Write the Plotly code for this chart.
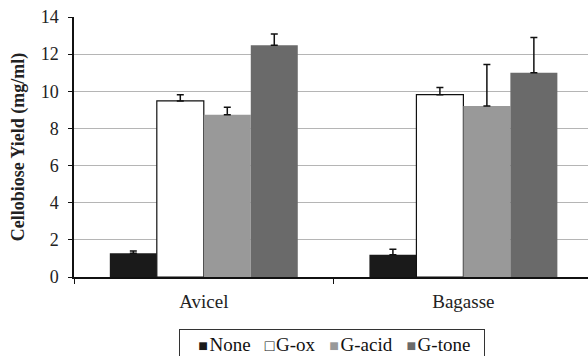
import plotly.graph_objects as go

categories = ["Avicel", "Bagasse"]
series_names = ["None", "G-ox", "G-acid", "G-tone"]
values = {
    "None": [1.28, 1.2],
    "G-ox": [9.48, 9.82],
    "G-acid": [8.74, 9.21],
    "G-tone": [12.48, 11.0],
}
errors = {
    "None": [0.12, 0.3],
    "G-ox": [0.34, 0.39],
    "G-acid": [0.4, 2.23],
    "G-tone": [0.6, 1.89],
}
colors = {"None": "#1a1a1a", "G-ox": "#ffffff", "G-acid": "#999999", "G-tone": "#6a6a6a"}
legend_symbols = {"None": "■", "G-ox": "□", "G-acid": "■", "G-tone": "■"}
y_ticks = [0, 2, 4, 6, 8, 10, 12, 14]

font_family = "Liberation Serif, Times New Roman, Times, serif"

fig = go.Figure()
for name in series_names:
    fig.add_trace(go.Bar(
        name=name,
        x=categories,
        y=values[name],
        showlegend=False,
        marker=dict(color=colors[name],
                    line=dict(color="#111111", width=1.2 if name == "G-ox" else 0)),
        error_y=dict(type="data", symmetric=False, array=errors[name],
                     arrayminus=[0] * len(categories),
                     color="#111111", thickness=1.5, width=3.5),
    ))

# legend built from the series names and colours (compact Excel-style legend box)
nb = "\u00a0"
parts = []
for name in series_names:
    sym_color = "#111111" if name == "G-ox" else colors[name]
    parts.append(f"<span style='color:{sym_color};font-size:16px'>{legend_symbols[name]}</span>"
                 f"<span style='font-size:6px'>{nb}</span>{name}")
legend_text = nb * 3 + (nb * 3).join(parts) + nb * 2

fig.add_annotation(
    xref="paper", yref="paper", x=0.5014, y=-0.201,
    xanchor="center", yanchor="top", showarrow=False,
    text=legend_text,
    font=dict(family=font_family, size=19, color="#111111"),
    bordercolor="#333333", borderwidth=1, borderpad=4, bgcolor="white",
)

fig.update_layout(
    width=588, height=356,
    margin=dict(l=74, r=0, t=17, b=79, autoexpand=False),
    paper_bgcolor="white", plot_bgcolor="white",
    barmode="group", bargap=0.276, bargroupgap=0,
    font=dict(family=font_family, size=14, color="#222222"),
    showlegend=False,
)
fig.update_xaxes(
    range=[-0.5, 1.48],
    showline=True, linecolor="#111111", linewidth=2,
    ticks="outside", tickson="boundaries", ticklen=5, tickcolor="#111111",
    showgrid=False, automargin=False, ticklabelstandoff=6,
    tickfont=dict(family=font_family, size=19, color="#222222"),
)
fig.update_yaxes(
    range=[0, 14], tickvals=y_ticks, ticktext=[str(v) for v in y_ticks],
    showline=True, linecolor="#111111", linewidth=1.5,
    ticks="outside", ticklen=4, tickcolor="#111111",
    showgrid=True, gridcolor="#b5b5b5", gridwidth=1,
    zeroline=False, automargin=False, ticklabelstandoff=6,
    tickfont=dict(family=font_family, size=18, color="#222222"),
    title=dict(text="<b>Cellobiose Yield (mg/ml)</b>", standoff=11,
               font=dict(family=font_family, size=18, color="#222222")),
)

fig.write_html("out.html",
               config={"displayModeBar": False},
               post_script="document.body.style.margin='0';document.body.style.overflow='hidden';")
